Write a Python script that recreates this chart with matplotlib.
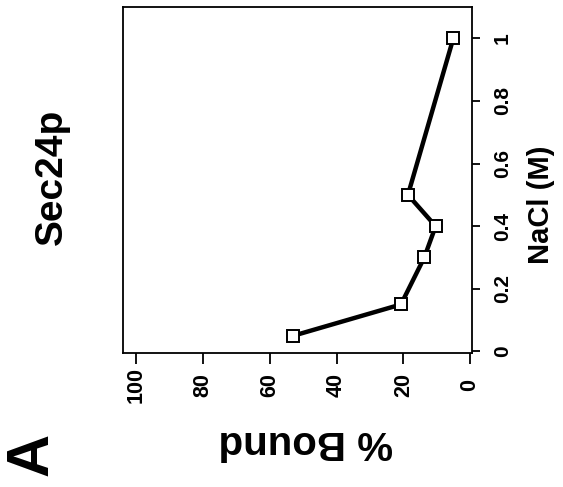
import matplotlib
matplotlib.use('Agg')
import matplotlib.pyplot as plt

# Data (figure is shown rotated 90 degrees)
nacl = [0.05, 0.15, 0.3, 0.4, 0.5, 1.0]
bound = [53, 20.7, 13.7, 10.3, 18.6, 5.0]
bound_ticks = [100, 80, 60, 40, 20, 0]
bound_labels = ['100', '80', '60', '40', '20', '0']
nacl_ticks = [0, 0.2, 0.4, 0.6, 0.8, 1.0]
nacl_labels = ['0', '0.2', '0.4', '0.6', '0.8', '1']

plt.rcParams['font.family'] = ['Liberation Sans', 'DejaVu Sans']
plt.rcParams['font.weight'] = 'bold'

W, H = 563, 487
fig = plt.figure(figsize=(W / 100, H / 100), dpi=100)
ax = fig.add_axes([123 / W, 1 - 353 / H, 349 / W, 346 / H])

ax.plot(bound, nacl, color='black', linewidth=3.2, marker='s', markersize=8.5,
        markerfacecolor='white', markeredgecolor='black', markeredgewidth=1.4)

ax.set_xlim(104, -0.6)
ax.set_ylim(-0.005, 1.1)

ax.set_xticks(bound_ticks)
ax.set_xticklabels(bound_labels, rotation=90, va='center', fontsize=15.5, fontweight='bold')
ax.yaxis.tick_right()
ax.set_yticks(nacl_ticks)
ax.set_yticklabels(nacl_labels, rotation=90, va='center', ha='left', fontsize=15, fontweight='bold')

ax.tick_params(axis='x', direction='out', length=8, width=1.3, pad=15)
ax.tick_params(axis='y', direction='out', length=6, width=1.3, pad=9)

for sp in ax.spines.values():
    sp.set_linewidth(1.3)

# labels
fig.text(306 / W, 1 - 442 / H, '% Bound', rotation=180, ha='center', va='center',
         fontsize=29, fontweight='bold')
fig.text(541 / W, 1 - 205 / H, 'NaCl (M)', rotation=90, ha='center', va='center',
         fontsize=21, fontweight='bold')
fig.text(52 / W, 1 - 177 / H, 'Sec24p', rotation=90, ha='center', va='center',
         fontsize=28, fontweight='bold')
fig.text(32 / W, 1 - 454 / H, 'A', rotation=90, ha='center', va='center',
         fontsize=43, fontweight='bold')

fig.savefig('out.png', dpi=100)
